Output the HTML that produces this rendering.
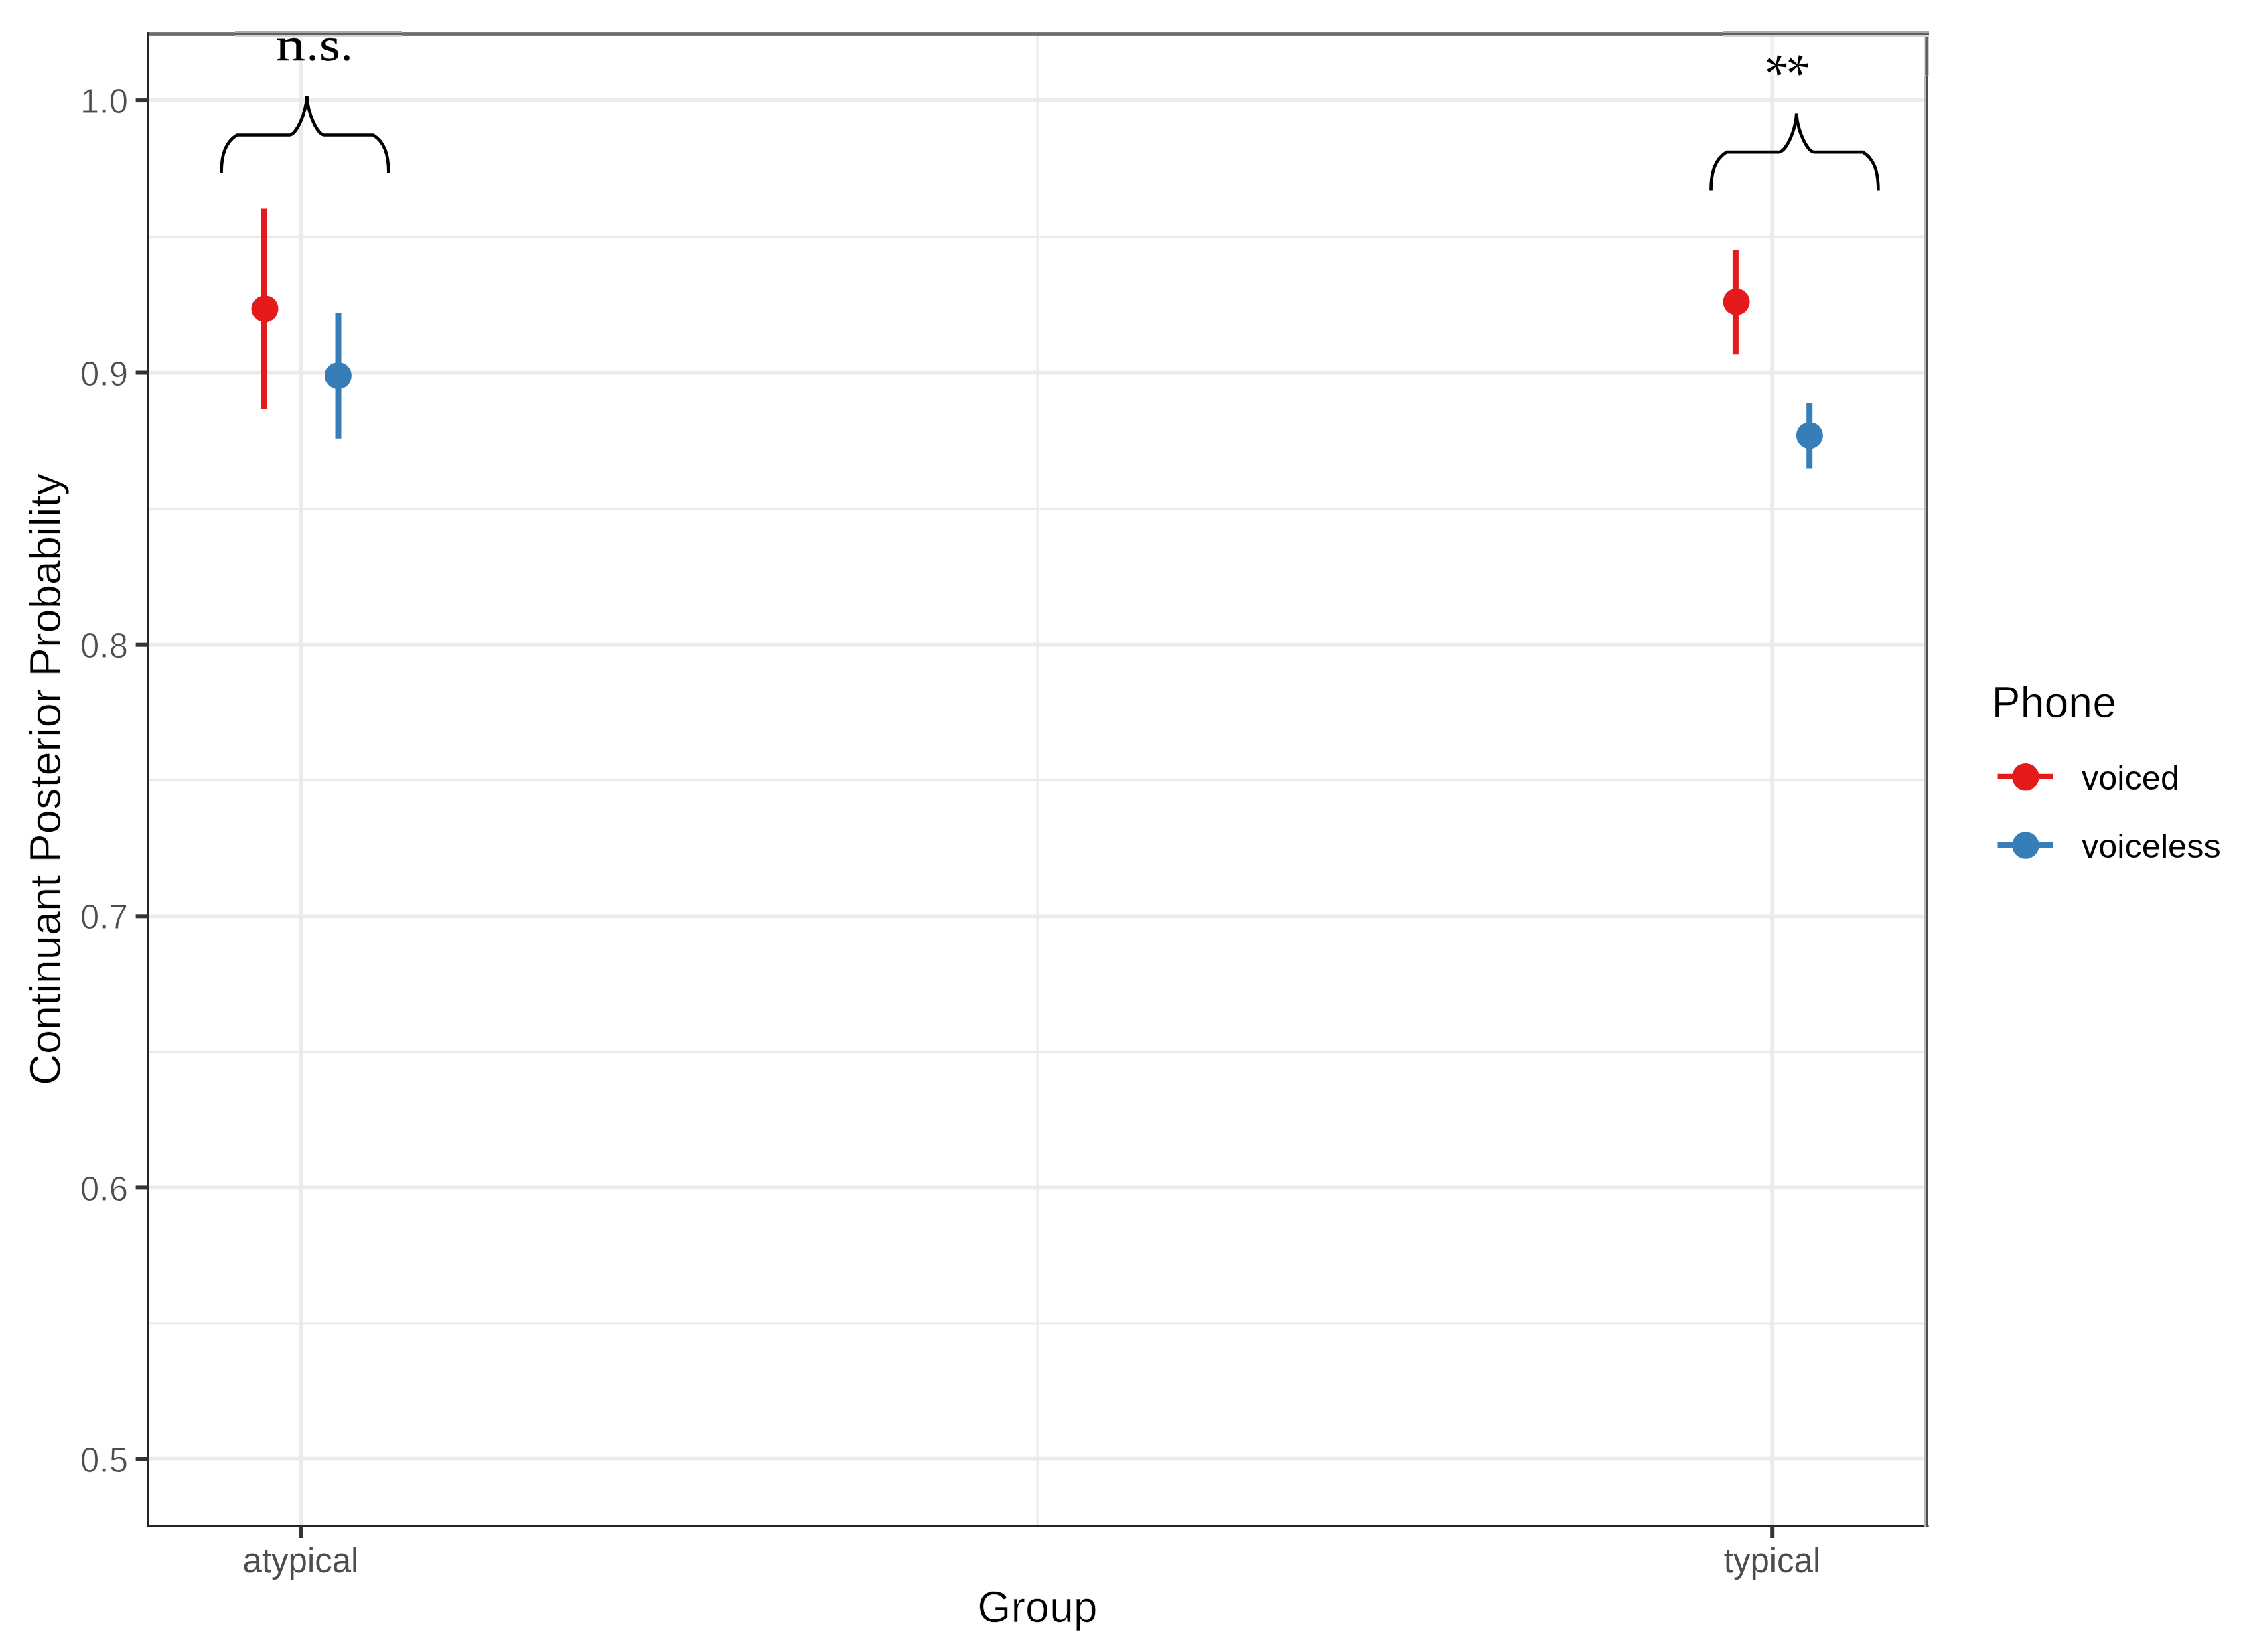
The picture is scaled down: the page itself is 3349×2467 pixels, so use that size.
<!DOCTYPE html>
<html><head><meta charset="utf-8">
<style>
html,body{margin:0;padding:0;background:#fff;}
body{width:3349px;height:2467px;overflow:hidden;}
svg{display:block;}
text{font-family:"Liberation Sans",sans-serif;}
text.sf{font-family:"Liberation Serif",serif;}
</style></head>
<body>
<svg width="3349" height="2467" viewBox="0 0 3349 2467">
<rect x="0" y="0" width="3349" height="2467" fill="#fff"/>
<!-- minor gridlines -->
<g stroke="#ebebeb" stroke-width="3.2" fill="none">
<line x1="221" y1="353.3" x2="2876" y2="353.3"/>
<line x1="221" y1="759.5" x2="2876" y2="759.5"/>
<line x1="221" y1="1165.5" x2="2876" y2="1165.5"/>
<line x1="221" y1="1571" x2="2876" y2="1571"/>
<line x1="221" y1="1976" x2="2876" y2="1976"/>
<line x1="1549.1" y1="51" x2="1549.1" y2="2279"/>
</g>
<!-- major gridlines -->
<g stroke="#ebebeb" stroke-width="5.8" fill="none">
<line x1="221" y1="150.1" x2="2876" y2="150.1"/>
<line x1="221" y1="556.6" x2="2876" y2="556.6"/>
<line x1="221" y1="962.7" x2="2876" y2="962.7"/>
<line x1="221" y1="1368.3" x2="2876" y2="1368.3"/>
<line x1="221" y1="1773.4" x2="2876" y2="1773.4"/>
<line x1="221" y1="2178.6" x2="2876" y2="2178.6"/>
<line x1="449.2" y1="51" x2="449.2" y2="2279"/>
<line x1="2646.2" y1="51" x2="2646.2" y2="2279"/>
</g>
<!-- label background boxes -->
<rect x="351" y="54" width="249" height="37" fill="#fff" fill-opacity="0.6"/>
<rect x="2573" y="55" width="299" height="57.7" fill="#fff" fill-opacity="0.3"/>
<!-- panel border -->
<rect x="219.5" y="48.1" width="131.5" height="5.8" fill="#6e6e6e"/>
<rect x="600" y="48.1" width="1973" height="5.8" fill="#6e6e6e"/>
<g>
<rect x="351" y="46.5" width="249" height="2.5" fill="#ababab"/>
<rect x="351" y="49" width="249" height="3.6" fill="#5e5e5e"/>
<rect x="351" y="52.6" width="249" height="2.4" fill="#d3d3d3"/>
<rect x="2573" y="46.5" width="307" height="2.5" fill="#ababab"/>
<rect x="2573" y="49" width="307" height="3.6" fill="#5e5e5e"/>
<rect x="2573" y="52.6" width="307" height="2.4" fill="#d3d3d3"/>
</g>
<rect x="219.5" y="48.1" width="2.7" height="2232.5" fill="#262626"/>
<rect x="219.5" y="2277.5" width="2660" height="3.1" fill="#242424"/>
<!-- right border -->
<rect x="2873" y="112.7" width="3" height="2167.9" fill="#bababa"/>
<rect x="2876" y="112.7" width="3" height="2167.9" fill="#4f4f4f"/>
<rect x="2872.2" y="55" width="1.8" height="57.7" fill="#dddddd"/>
<rect x="2874" y="55" width="2" height="57.7" fill="#888888"/>
<rect x="2876" y="55" width="2" height="57.7" fill="#626262"/>
<rect x="2878" y="55" width="2" height="57.7" fill="#cccccc"/>
<!-- y ticks -->
<g stroke="#333" stroke-width="6">
<line x1="202.6" y1="150.1" x2="221" y2="150.1"/>
<line x1="202.6" y1="556.5" x2="221" y2="556.5"/>
<line x1="202.6" y1="962.7" x2="221" y2="962.7"/>
<line x1="202.6" y1="1368.3" x2="221" y2="1368.3"/>
<line x1="202.6" y1="1773.4" x2="221" y2="1773.4"/>
<line x1="202.6" y1="2179" x2="221" y2="2179"/>
</g>
<!-- x ticks -->
<g stroke="#333" stroke-width="6">
<line x1="449.2" y1="2279" x2="449.2" y2="2297"/>
<line x1="2646.2" y1="2279" x2="2646.2" y2="2297"/>
</g>
<!-- y labels -->
<g fill="#4d4d4d" font-size="51" text-anchor="end" stroke="#fff" stroke-width="0.8">
<text x="191" y="169.3">1.0</text>
<text x="191" y="575.5">0.9</text>
<text x="191" y="981.5">0.8</text>
<text x="191" y="1387">0.7</text>
<text x="191" y="1792.5">0.6</text>
<text x="191" y="2198">0.5</text>
</g>
<!-- x labels -->
<g fill="#4d4d4d" font-size="51" text-anchor="middle">
<text x="449" y="2348.3">atypical</text>
<text x="2646" y="2348.3">typical</text>
</g>
<!-- axis titles -->
<text x="1549" y="2421.6" font-size="64.5" text-anchor="middle" fill="#000" stroke="#fff" stroke-width="0.7">Group</text>
<text transform="translate(90.3,1164) rotate(-90)" x="0" y="0" font-size="65" text-anchor="middle" fill="#000" stroke="#fff" stroke-width="0.7">Continuant Posterior Probability</text>
<!-- error bars + points -->
<g stroke-width="9">
<line x1="394.5" y1="311.6" x2="394.5" y2="611" stroke="#e41a1c"/>
<line x1="505" y1="467.2" x2="505" y2="654.7" stroke="#377eb8"/>
<line x1="2591.4" y1="373.5" x2="2591.4" y2="529.2" stroke="#e41a1c"/>
<line x1="2701.7" y1="602" x2="2701.7" y2="699.5" stroke="#377eb8"/>
</g>
<circle cx="395.5" cy="461.2" r="20" fill="#e41a1c"/>
<circle cx="504.9" cy="561" r="20" fill="#377eb8"/>
<circle cx="2592.6" cy="450.8" r="20" fill="#e41a1c"/>
<circle cx="2701.9" cy="650.2" r="20" fill="#377eb8"/>
<!-- braces -->
<g fill="none" stroke="#000" stroke-width="4.7">
<g id="br"><path d="M330.5 258.8 C330.5 230 337 212 354 201.5 L432 201.5 C442 201.5 457 170 458.3 144"/><path d="M458.3 144 C459.6 170 474.6 201.5 484.6 201.5 L557.2 201.5 C574.2 212 580.4 230 580.4 258.8"/></g>
<use href="#br" transform="translate(2224,25.6)"/>
</g>
<!-- n.s. -->
<g font-size="69" fill="#000" stroke="#000" stroke-width="0.3">
<text class="sf" transform="translate(411.7,90) scale(1.28,1)">n</text>
<text class="sf" transform="translate(458.1,90)">.</text>
<text class="sf" transform="translate(476.9,90) scale(1.15,1)">s</text>
<text class="sf" transform="translate(509,90)">.</text>
</g>
<!-- ** -->
<defs><g id="ast"><polygon points="0,-0.9 15,-3.1 15,3.1 0,0.9"/><polygon points="0,-0.9 15,-3.1 15,3.1 0,0.9" transform="rotate(72)"/><polygon points="0,-0.9 15,-3.1 15,3.1 0,0.9" transform="rotate(144)"/><polygon points="0,-0.9 15,-3.1 15,3.1 0,0.9" transform="rotate(216)"/><polygon points="0,-0.9 15,-3.1 15,3.1 0,0.9" transform="rotate(288)"/></g></defs>
<use href="#ast" transform="translate(2652.1,97.5)" fill="#000"/>
<use href="#ast" transform="translate(2684,97.5)" fill="#000"/>
<!-- legend -->
<text x="2973.5" y="1070.7" font-size="64.5" fill="#000" stroke="#fff" stroke-width="0.7">Phone</text>
<line x1="2982.5" y1="1159.9" x2="3066" y2="1159.9" stroke="#e41a1c" stroke-width="8.2"/>
<circle cx="3024.4" cy="1160.3" r="20.3" fill="#e41a1c"/>
<line x1="2982.5" y1="1262" x2="3066" y2="1262" stroke="#377eb8" stroke-width="8"/>
<circle cx="3024.4" cy="1262.5" r="20.3" fill="#377eb8"/>
<text x="3108" y="1178.5" font-size="50.5" fill="#000">voiced</text>
<text x="3108" y="1281.2" font-size="50.5" fill="#000">voiceless</text>
</svg>
</body></html>
